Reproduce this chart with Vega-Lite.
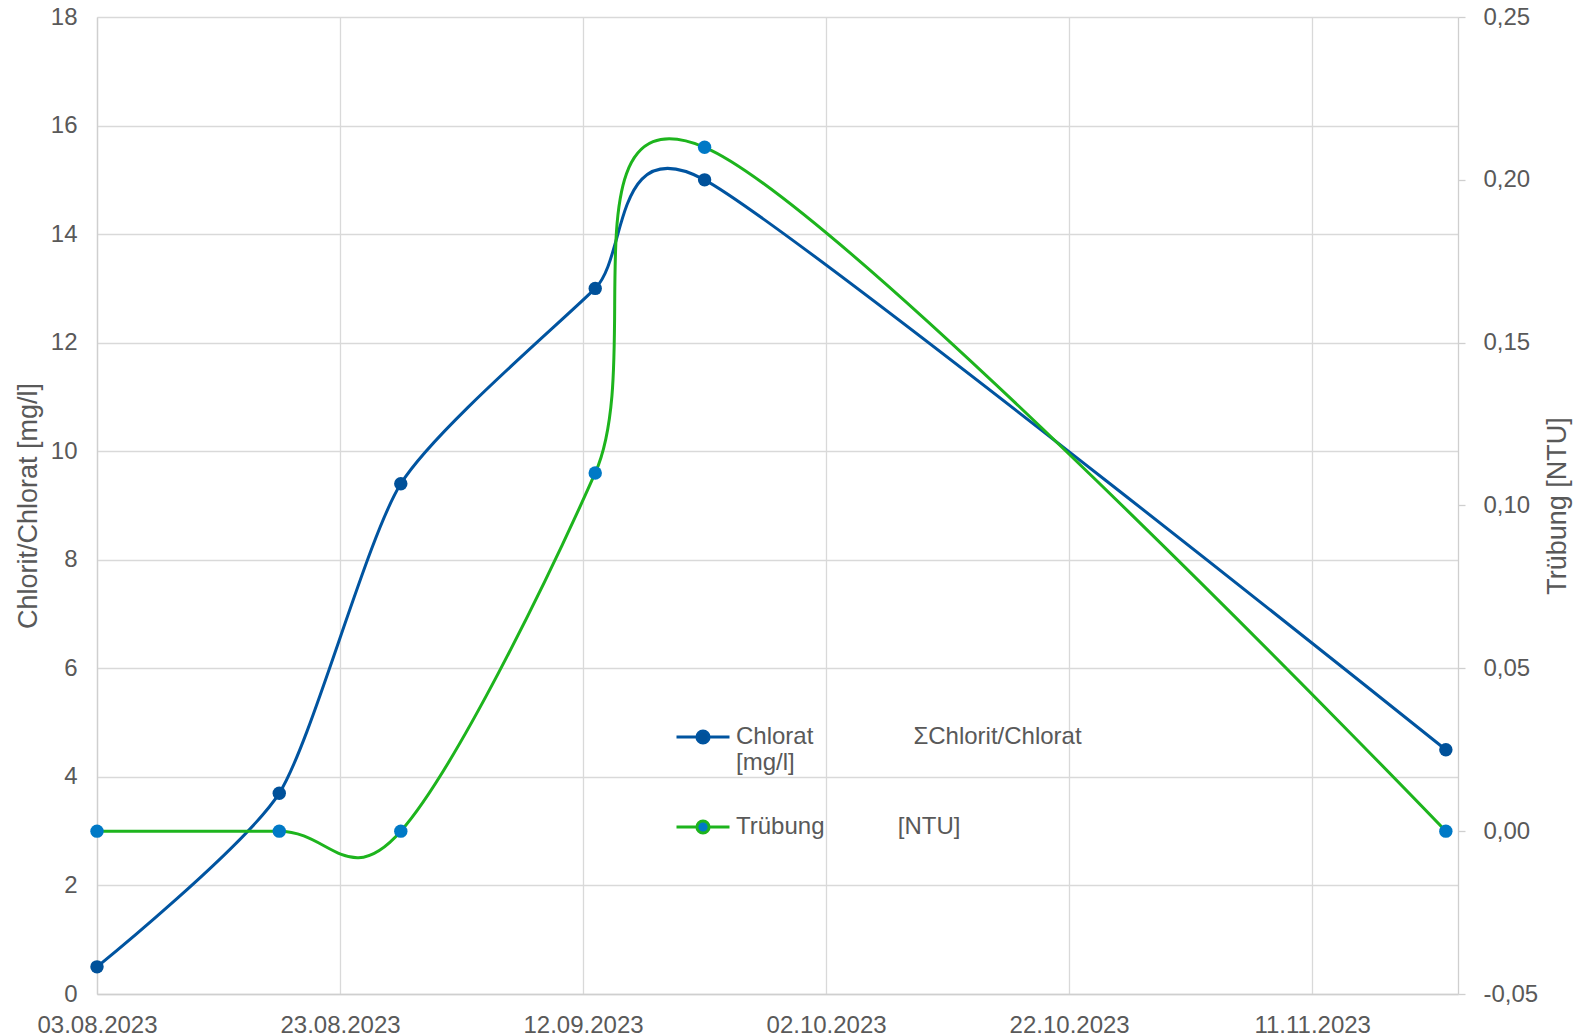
{
  "$schema": "https://vega.github.io/schema/vega-lite/v6.json",
  "width": 1361,
  "height": 977,
  "autosize": {"type": "none"},
  "padding": {"left": 97, "top": 17, "right": 115, "bottom": 42},
  "background": "white",
  "config": {
    "locale": {"number": {"decimal": ",", "thousands": ".", "grouping": [3], "currency": ["", " €"], "minus": "-"}},
    "font": "Liberation Sans",
    "view": {"stroke": null},
    "axis": {
      "labelColor": "#595959",
      "titleColor": "#595959",
      "labelFont": "Liberation Sans",
      "titleFont": "Liberation Sans",
      "labelFontSize": 24,
      "titleFontSize": 27,
      "titleFontWeight": "normal",
      "gridColor": "#d9d9d9",
      "gridWidth": 1.3,
      "domainColor": "#cfcfcf",
      "domainWidth": 1.3,
      "tickColor": "#cfcfcf",
      "tickWidth": 1.3
    },
    "legend": {
      "orient": "none",
      "legendX": 578,
      "legendY": 692,
      "padding": 0,
      "labelFont": "Liberation Sans",
      "labelFontSize": 24,
      "labelColor": "#595959",
      "labelLimit": 0,
      "labelOffset": 5,
      "labelBaseline": "middle",
      "labelLineHeight": 29,
      "rowPadding": 24,
      "symbolType": "M-1,0L-0.26,0M0.26,0L1,0M0.23,0A0.23,0.23,0,1,1,-0.23,0A0.23,0.23,0,1,1,0.23,0Z",
      "symbolSize": 2809,
      "symbolStrokeWidth": 3,
      "symbolOpacity": 1
    }
  },
  "data": {
    "values": [
      {"date": "2023-08-03", "series": "Chlorat ΣChlorit/Chlorat [mg/l]", "value": 0.5},
      {"date": "2023-08-18", "series": "Chlorat ΣChlorit/Chlorat [mg/l]", "value": 3.7},
      {"date": "2023-08-28", "series": "Chlorat ΣChlorit/Chlorat [mg/l]", "value": 9.4},
      {"date": "2023-09-13", "series": "Chlorat ΣChlorit/Chlorat [mg/l]", "value": 13.0},
      {"date": "2023-09-22", "series": "Chlorat ΣChlorit/Chlorat [mg/l]", "value": 15.0},
      {"date": "2023-11-22", "series": "Chlorat ΣChlorit/Chlorat [mg/l]", "value": 4.5},
      {"date": "2023-08-03", "series": "Trübung [NTU]", "value": 0.0},
      {"date": "2023-08-18", "series": "Trübung [NTU]", "value": 0.0},
      {"date": "2023-08-28", "series": "Trübung [NTU]", "value": 0.0},
      {"date": "2023-09-13", "series": "Trübung [NTU]", "value": 0.11},
      {"date": "2023-09-22", "series": "Trübung [NTU]", "value": 0.21},
      {"date": "2023-11-22", "series": "Trübung [NTU]", "value": 0.0}
    ]
  },
  "encoding": {
    "x": {
      "field": "date",
      "type": "temporal",
      "scale": {
        "type": "utc",
        "domain": [
          {"year": 2023, "month": 8, "date": 3, "utc": true},
          {"year": 2023, "month": 11, "date": 23, "utc": true}
        ]
      },
      "axis": {
        "title": null,
        "labelExpr": "utcFormat(datum.value, '%d.%m.%Y')",
        "values": [
          {"year": 2023, "month": 8, "date": 3, "utc": true},
          {"year": 2023, "month": 8, "date": 23, "utc": true},
          {"year": 2023, "month": 9, "date": 12, "utc": true},
          {"year": 2023, "month": 10, "date": 2, "utc": true},
          {"year": 2023, "month": 10, "date": 22, "utc": true},
          {"year": 2023, "month": 11, "date": 11, "utc": true}
        ],
        "ticks": false,
        "grid": true,
        "labelPadding": 19,
        "labelAngle": 0,
        "labelFlush": false,
        "labelOverlap": false
      }
    }
  },
  "layer": [
    {
      "transform": [{"filter": "datum.series === 'Chlorat ΣChlorit/Chlorat [mg/l]'"}],
      "encoding": {
        "y": {
          "field": "value",
          "type": "quantitative",
          "scale": {"domain": [0, 18], "nice": false, "zero": false},
          "axis": {
            "orient": "left",
            "title": "Chlorit/Chlorat [mg/l]",
            "values": [0, 2, 4, 6, 8, 10, 12, 14, 16, 18],
            "ticks": false,
            "grid": true,
            "labelPadding": 20,
            "titlePadding": 8
          }
        }
      },
      "layer": [
        {"mark": {"type": "line", "interpolate": "cardinal", "tension": 0.35, "strokeWidth": 3, "color": "#0054A0"}},
        {
          "mark": {"type": "point", "filled": true, "size": 180, "opacity": 1, "strokeWidth": 0},
          "encoding": {
            "fill": {
              "field": "series",
              "type": "nominal",
              "scale": {"domain": ["Chlorat ΣChlorit/Chlorat [mg/l]", "Trübung [NTU]"], "range": ["#00519A", "#0079C6"]},
              "legend": {"title": null, "labelExpr": "datum.label == 'Trübung [NTU]' ? 'Trübung\u00a0\u00a0\u00a0\u00a0\u00a0\u00a0\u00a0\u00a0\u00a0\u00a0\u00a0[NTU]' : ['Chlorat\u00a0\u00a0\u00a0\u00a0\u00a0\u00a0\u00a0\u00a0\u00a0\u00a0\u00a0\u00a0\u00a0\u00a0\u00a0ΣChlorit/Chlorat', '[mg/l]']"}
            },
            "stroke": {
              "field": "series",
              "type": "nominal",
              "scale": {"domain": ["Chlorat ΣChlorit/Chlorat [mg/l]", "Trübung [NTU]"], "range": ["#0054A0", "#1DB41D"]},
              "legend": {"title": null, "labelExpr": "datum.label == 'Trübung [NTU]' ? 'Trübung\u00a0\u00a0\u00a0\u00a0\u00a0\u00a0\u00a0\u00a0\u00a0\u00a0\u00a0[NTU]' : ['Chlorat\u00a0\u00a0\u00a0\u00a0\u00a0\u00a0\u00a0\u00a0\u00a0\u00a0\u00a0\u00a0\u00a0\u00a0\u00a0ΣChlorit/Chlorat', '[mg/l]']"}
            }
          }
        }
      ]
    },
    {
      "transform": [{"filter": "datum.series === 'Trübung [NTU]'"}],
      "encoding": {
        "y": {
          "field": "value",
          "type": "quantitative",
          "scale": {"domain": [-0.05, 0.25], "nice": false, "zero": false},
          "axis": {
            "orient": "right",
            "title": "Trübung [NTU]",
            "values": [-0.05, 0, 0.05, 0.1, 0.15, 0.2, 0.25],
            "format": ".2f",
            "ticks": true,
            "tickSize": 7,
            "grid": false,
            "labelPadding": 18,
            "titleAngle": 270,
            "titlePadding": 34
          }
        }
      },
      "layer": [
        {"mark": {"type": "line", "interpolate": "cardinal", "tension": 0, "strokeWidth": 3, "color": "#1DB41D"}},
        {
          "mark": {"type": "point", "filled": true, "size": 180, "opacity": 1, "strokeWidth": 0},
          "encoding": {
            "fill": {
              "field": "series",
              "type": "nominal",
              "scale": {"domain": ["Chlorat ΣChlorit/Chlorat [mg/l]", "Trübung [NTU]"], "range": ["#00519A", "#0079C6"]},
              "legend": {"title": null, "labelExpr": "datum.label == 'Trübung [NTU]' ? 'Trübung\u00a0\u00a0\u00a0\u00a0\u00a0\u00a0\u00a0\u00a0\u00a0\u00a0\u00a0[NTU]' : ['Chlorat\u00a0\u00a0\u00a0\u00a0\u00a0\u00a0\u00a0\u00a0\u00a0\u00a0\u00a0\u00a0\u00a0\u00a0\u00a0ΣChlorit/Chlorat', '[mg/l]']"}
            },
            "stroke": {
              "field": "series",
              "type": "nominal",
              "scale": {"domain": ["Chlorat ΣChlorit/Chlorat [mg/l]", "Trübung [NTU]"], "range": ["#0054A0", "#1DB41D"]},
              "legend": {"title": null, "labelExpr": "datum.label == 'Trübung [NTU]' ? 'Trübung\u00a0\u00a0\u00a0\u00a0\u00a0\u00a0\u00a0\u00a0\u00a0\u00a0\u00a0[NTU]' : ['Chlorat\u00a0\u00a0\u00a0\u00a0\u00a0\u00a0\u00a0\u00a0\u00a0\u00a0\u00a0\u00a0\u00a0\u00a0\u00a0ΣChlorit/Chlorat', '[mg/l]']"}
            }
          }
        }
      ]
    }
  ],
  "resolve": {"scale": {"y": "independent"}}
}
